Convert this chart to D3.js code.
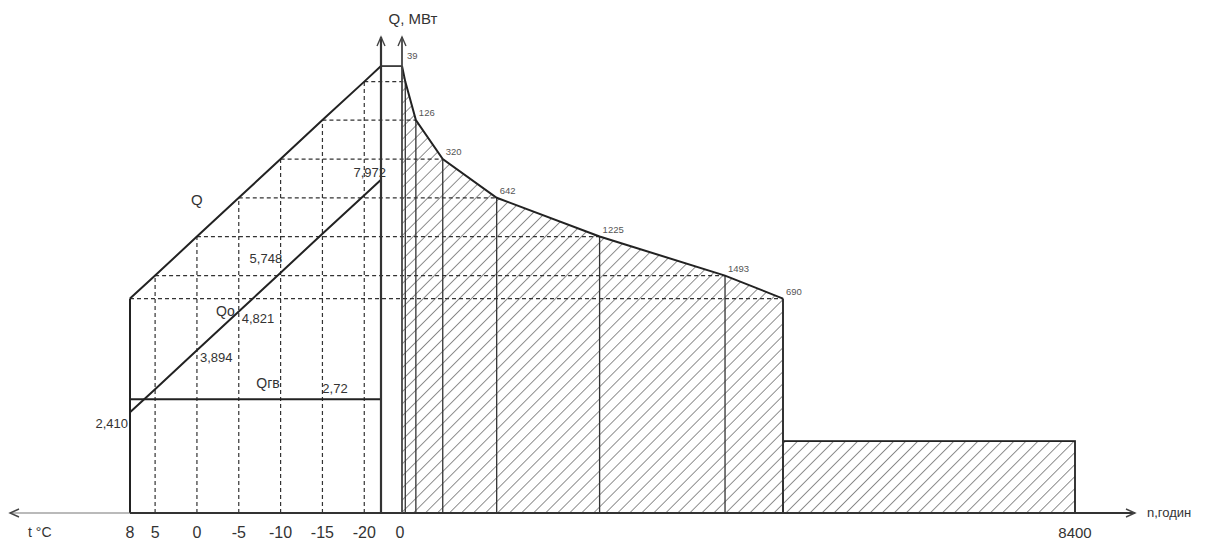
<!DOCTYPE html>
<html>
<head>
<meta charset="utf-8">
<script src="https://cdn.jsdelivr.net/npm/d3@7"></script>
<style>
  body { margin: 0; background: #fff; }
  text { font-family: "Liberation Sans", Arial, sans-serif; fill: #333; }
</style>
</head>
<body>
<div id="chart"></div>
<script>
// temperatures on the left graph, from +8 down to the design temperature
var temps = [8, 5, 0, -5, -10, -15, -20, -22];
// heating load Qo, MW, at each temperature
var qo = [2.410, 2.96, 3.894, 4.821, 5.748, 6.68, 7.60, 7.972];
// hot water load, MW (winter / summer)
var qgv = 2.72;
var qSummer = 1.72;
// hours per temperature interval (coldest first)
var hoursPer = [39, 126, 320, 642, 1225, 1493, 690];
var yearHours = 8400;
var tickTemps = [8, 5, 0, -5, -10, -15, -20];
var qoLabels = [
  {t: 8, text: "2,410"}, {t: 0, text: "3,894"}, {t: -5, text: "4,821"},
  {t: -10, text: "5,748"}, {t: -22, text: "7,972"}
];

var width = 1224, height = 545;

var svg = d3.select("#chart").append("svg")
    .attr("width", width)
    .attr("height", height);

var y = d3.scaleLinear().domain([0, 10]).range([513, 95]);
var xT = d3.scaleLinear().domain([8, -22]).range([130, 381]);
var cum = [0].concat(Array.from(d3.cumsum(hoursPer)));
var heatEnd = cum[cum.length - 1];
var xH = d3.scaleLinear().domain([0, heatEnd, yearHours]).range([402, 783, 1075]);

var qTotal = qo.map(function (v) { return v + qgv; });
function qoAt(t) { return qo[temps.indexOf(t)]; }
function qAt(t) { return qTotal[temps.indexOf(t)]; }

// duration curve: coldest first
var curve = cum.map(function (h, i) {
    return {h: h, q: qTotal[temps.length - 1 - i], t: temps[temps.length - 1 - i]};
});
function hoursAt(t) { return curve.find(function (d) { return d.t === t; }).h; }

// hatch pattern
var defs = svg.append("defs");
defs.append("pattern")
    .attr("id", "hatch")
    .attr("patternUnits", "userSpaceOnUse")
    .attr("width", 8.5).attr("height", 8.5)
    .attr("patternTransform", "rotate(45)")
  .append("line")
    .attr("x1", 0).attr("y1", 0).attr("x2", 0).attr("y2", 8.5)
    .attr("stroke", "#333").attr("stroke-width", 1.1);

defs.append("marker")
    .attr("id", "arrow")
    .attr("viewBox", "-10 -5 12 10")
    .attr("refX", 0).attr("refY", 0)
    .attr("markerWidth", 12).attr("markerHeight", 10)
    .attr("markerUnits", "userSpaceOnUse")
    .attr("orient", "auto")
  .append("path")
    .attr("d", "M-9,-4 L0,0 L-9,4")
    .attr("fill", "none")
    .attr("stroke", "#444")
    .attr("stroke-width", 1.4);

// hatched areas
var area = d3.area()
    .x(function (d) { return xH(d.h); })
    .y0(y(0))
    .y1(function (d) { return y(d.q); });
svg.append("path")
    .datum(curve)
    .attr("d", area)
    .attr("fill", "url(#hatch)");
svg.append("rect")
    .attr("x", xH(heatEnd)).attr("y", y(qSummer))
    .attr("width", xH(yearHours) - xH(heatEnd))
    .attr("height", y(0) - y(qSummer))
    .attr("fill", "url(#hatch)")
    .attr("stroke", "#222").attr("stroke-width", 1.8);

// dashed grid: verticals on the temperature side
var dash = svg.append("g")
    .attr("stroke", "#333")
    .attr("stroke-width", 1.2)
    .attr("stroke-dasharray", "4,3");
dash.selectAll(".vt")
    .data(tickTemps.slice(1))
    .enter().append("line")
    .attr("x1", function (t) { return xT(t); })
    .attr("x2", function (t) { return xT(t); })
    .attr("y1", y(0))
    .attr("y2", function (t) { return y(qAt(t)); });
// horizontals from Q line to the duration curve
dash.selectAll(".hz")
    .data(tickTemps)
    .enter().append("line")
    .attr("x1", function (t) { return xT(t); })
    .attr("x2", function (t) { return xH(hoursAt(t)); })
    .attr("y1", function (t) { return y(qAt(t)); })
    .attr("y2", function (t) { return y(qAt(t)); });

// vertical solid lines under the duration curve
svg.append("g")
    .selectAll("line")
    .data(curve.slice(1))
    .enter().append("line")
    .attr("x1", function (d) { return xH(d.h); })
    .attr("x2", function (d) { return xH(d.h); })
    .attr("y1", y(0))
    .attr("y2", function (d) { return y(d.q); })
    .attr("stroke", "#333")
    .attr("stroke-width", function (d) { return d.h === heatEnd ? 2 : 1.3; });

// duration curve
var lineH = d3.line()
    .x(function (d) { return xH(d.h); })
    .y(function (d) { return y(d.q); });
svg.append("path")
    .datum(curve)
    .attr("d", lineH)
    .attr("fill", "none")
    .attr("stroke", "#222")
    .attr("stroke-width", 2);

// left graph lines
var lineT = d3.line()
    .x(function (d) { return xT(d.t); })
    .y(function (d) { return y(d.q); });
var qLine = temps.map(function (t, i) { return {t: t, q: qTotal[i]}; });
var qoLine = temps.map(function (t, i) { return {t: t, q: qo[i]}; });
svg.append("path").datum(qLine).attr("d", lineT)
    .attr("fill", "none").attr("stroke", "#222").attr("stroke-width", 2);
svg.append("path").datum(qoLine).attr("d", lineT)
    .attr("fill", "none").attr("stroke", "#222").attr("stroke-width", 2);
svg.append("line")
    .attr("x1", xT(8)).attr("x2", xT(-22))
    .attr("y1", y(qgv)).attr("y2", y(qgv))
    .attr("stroke", "#222").attr("stroke-width", 2);
// left edge at +8
svg.append("line")
    .attr("x1", xT(8)).attr("x2", xT(8))
    .attr("y1", y(0)).attr("y2", y(qAt(8)))
    .attr("stroke", "#222").attr("stroke-width", 2);
// top link between the two graphs
svg.append("line")
    .attr("x1", xT(-22)).attr("x2", xH(0))
    .attr("y1", y(qAt(-22))).attr("y2", y(qAt(-22)))
    .attr("stroke", "#222").attr("stroke-width", 1.6);

// axes
svg.append("line")
    .attr("x1", xT(8)).attr("x2", 10)
    .attr("y1", y(0)).attr("y2", y(0))
    .attr("stroke", "#777").attr("stroke-width", 1.2)
    .attr("marker-end", "url(#arrow)");
svg.append("line")
    .attr("x1", xT(8)).attr("x2", 1135)
    .attr("y1", y(0)).attr("y2", y(0))
    .attr("stroke", "#333").attr("stroke-width", 2)
    .attr("marker-end", "url(#arrow)");
svg.append("line")
    .attr("x1", xT(-22)).attr("x2", xT(-22))
    .attr("y1", y(0)).attr("y2", 37)
    .attr("stroke", "#333").attr("stroke-width", 2.2)
    .attr("marker-end", "url(#arrow)");
svg.append("line")
    .attr("x1", xH(0)).attr("x2", xH(0))
    .attr("y1", y(0)).attr("y2", 37)
    .attr("stroke", "#444").attr("stroke-width", 1.8)
    .attr("marker-end", "url(#arrow)");

// tick labels
svg.append("g")
    .selectAll("text")
    .data(tickTemps)
    .enter().append("text")
    .attr("x", function (t) { return xT(t); })
    .attr("y", 538)
    .attr("text-anchor", "middle")
    .attr("font-size", 16)
    .text(function (t) { return t; });
svg.append("text").attr("x", xH(0) - 2).attr("y", 538)
    .attr("text-anchor", "middle").attr("font-size", 16).text("0");
svg.append("text").attr("x", xH(yearHours)).attr("y", 538)
    .attr("text-anchor", "middle").attr("font-size", 15).text(yearHours);
svg.append("text").attr("x", 28).attr("y", 537)
    .attr("font-size", 14).text("t °C");
svg.append("text").attr("x", 1147).attr("y", 517)
    .attr("font-size", 13).text("n,годин");
svg.append("text").attr("x", 413).attr("y", 24)
    .attr("text-anchor", "middle").attr("font-size", 15).text("Q, МВт");

// hours labels on the duration curve
svg.append("g")
    .selectAll("text")
    .data(hoursPer)
    .enter().append("text")
    .attr("x", function (d, i) { return i === 0 ? xH(0) + 5 : xH(cum[i + 1]) + 3; })
    .attr("y", function (d, i) { return i === 0 ? y(curve[0].q) - 7 : y(curve[i + 1].q) - 4; })
    .attr("font-size", 9.5)
    .style("fill", "#555")
    .text(function (d) { return d; });

// value labels on the left graph
var lab = svg.append("g").attr("font-size", 13);
qoLabels.forEach(function (d) {
    var px = xT(d.t), py = y(qoAt(d.t));
    var t = lab.append("text");
    if (d.t === 8) {
        t.attr("x", px - 2).attr("y", py + 16).attr("text-anchor", "end");
    } else if (d.t === -22) {
        t.attr("x", px + 5).attr("y", py - 3).attr("text-anchor", "end");
    } else if (d.t === -10) {
        t.attr("x", px - 31).attr("y", py - 10);
    } else {
        t.attr("x", px + 3).attr("y", py + 12);
    }
    t.text(d.text);
});
lab.append("text").attr("x", xT(-16.5)).attr("y", y(qgv) - 6)
    .attr("text-anchor", "middle").text("2,72");
lab.append("text").attr("x", xT(-8.5)).attr("y", y(qgv) - 11)
    .attr("text-anchor", "middle").attr("font-size", 14).text("Qгв");
lab.append("text").attr("x", xT(-5) - 4).attr("y", y(qoAt(-5)) + 5)
    .attr("text-anchor", "end").attr("font-size", 14).text("Qo");
lab.append("text").attr("x", xT(0)).attr("y", y(qAt(0)) - 32)
    .attr("text-anchor", "middle").attr("font-size", 15).text("Q");
</script>
</body>
</html>
